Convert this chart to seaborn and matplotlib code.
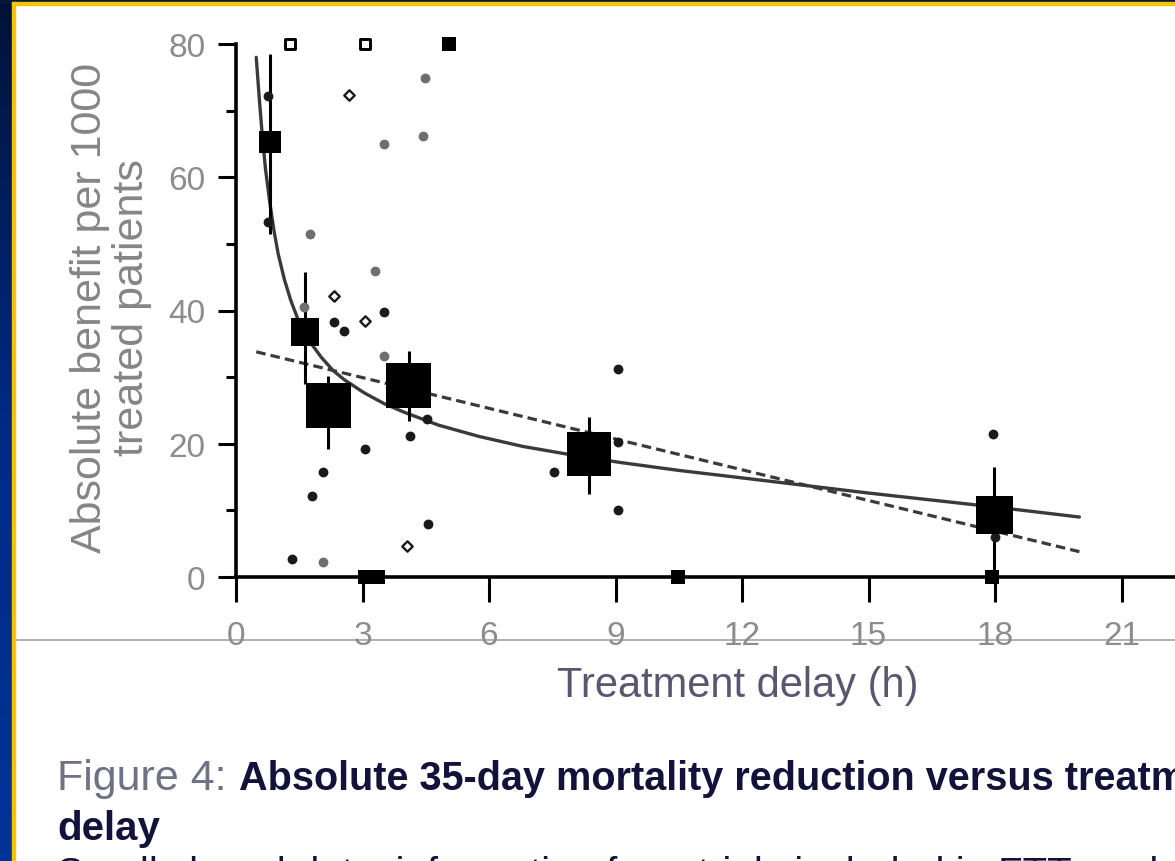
import matplotlib
matplotlib.use('Agg')
import matplotlib.pyplot as plt
import numpy as np
import seaborn as sns
from matplotlib.patches import Rectangle
from matplotlib.lines import Line2D
from matplotlib.colors import LinearSegmentedColormap

# trial data (x = treatment delay h, y = benefit per 1000)
dark_x = [0.75, 0.75, 2.33, 2.57, 3.5, 4.52, 4.12, 3.05, 2.07, 1.81, 4.55, 1.33, 9.05, 7.55, 9.05, 9.05, 17.95, 18.0]
dark_y = [72.2, 53.3, 38.3, 36.9, 39.8, 23.7, 21.2, 19.2, 15.8, 12.2, 8.0, 2.7, 31.2, 15.8, 20.3, 10.0, 21.5, 6.0]
grey_x = [4.48, 4.43, 3.52, 1.76, 3.3, 1.62, 3.5, 2.07]
grey_y = [74.9, 66.2, 65.0, 51.5, 46.0, 40.5, 33.2, 2.2]
open_x = [2.69, 2.33, 3.05, 4.05]
open_y = [72.3, 42.2, 38.4, 4.7]

# data beyond the scale, drawn as small squares on the frame
out_open_x = [1.27, 3.05]
out_open_y = [80, 80]
out_fill_x = [5.05, 3.05, 3.36, 10.48, 17.93]
out_fill_y = [80, 0, 0, 0, 0]

# six time-to-treatment groups
grp_x = [0.8, 1.64, 2.19, 4.1, 8.38, 17.98]
grp_y = [65.3, 36.8, 25.8, 28.8, 18.5, 9.3]
grp_lo = [51.5, 29.0, 19.2, 23.4, 12.5, 0.0]
grp_hi = [78.5, 45.8, 30.2, 33.9, 24.0, 16.5]
grp_weight = [0.24, 0.39, 1.0, 1.0, 0.96, 0.68]

# regression lines
curve_x = [0.48, 0.55, 0.62, 0.7, 0.8, 0.9, 1.0, 1.15, 1.3, 1.45, 1.6, 1.8, 2.02, 2.3, 2.57, 3.05, 3.52, 4.0, 4.8, 5.76, 6.8, 7.8, 9.1, 10.5, 12.1, 15.0, 18.0, 20.0]
curve_y = [78.0, 72.0, 66.5, 61.2, 56.3, 52.0, 48.5, 44.6, 41.5, 39.0, 37.0, 34.9, 33.0, 31.0, 29.6, 27.6, 26.0, 24.7, 22.8, 21.1, 19.6, 18.5, 17.2, 16.0, 14.8, 12.6, 10.5, 9.0]
lin_x = [0.48, 20.0]
lin_y = [33.8, 3.8]

W, H = 1175, 862

sns.set_style('ticks')
plt.rcParams['font.family'] = ['Liberation Sans', 'DejaVu Sans']

fig = plt.figure(figsize=(W / 100, H / 100), dpi=100)
fig.patch.set_facecolor('white')

# slide frame: blue strip on the left, yellow rule, dark top edge
bg = fig.add_axes([0, 0, 12 / W, 1])
grad = np.linspace(0, 1, 256).reshape(-1, 1)
cmap = LinearSegmentedColormap.from_list('slide', ['#001238', '#002a86', '#003399'])
bg.imshow(grad, aspect='auto', cmap=cmap, extent=[0, 1, 0, 1], origin='upper')
bg.axis('off')
fig.add_artist(Rectangle((0, 1 - 3 / H), 1, 3 / H, transform=fig.transFigure, color='#081838', zorder=5))
fig.add_artist(Rectangle((12 / W, 1 - 6 / H), 1, 3 / H, transform=fig.transFigure, color='#f2c500', zorder=5))
fig.add_artist(Rectangle((12 / W, 0), 3 / W, 1 - 3 / H, transform=fig.transFigure, color='#f2c500', zorder=5))
fig.add_artist(Line2D([15 / W, 1], [1 - 641 / H] * 2, transform=fig.transFigure, color='#9a9a9a', lw=1.1, zorder=0))

ax = fig.add_axes([236 / W, 1 - 578 / H, (W - 236) / W, (578 - 45) / H])
ax.set_facecolor('none')

sns.lineplot(x=curve_x, y=curve_y, ax=ax, color='#3a3a3a', lw=2.4, sort=False, estimator=None)
sns.lineplot(x=lin_x, y=lin_y, ax=ax, color='#3a3a3a', lw=2.3, linestyle=(0, (3, 1.6)), sort=False, estimator=None)

ax.vlines(grp_x, grp_lo, grp_hi, color='black', lw=2.2, zorder=3)

sns.scatterplot(x=grey_x, y=grey_y, ax=ax, color='#6e6e6e', s=50, linewidth=0, zorder=4)
sns.scatterplot(x=dark_x, y=dark_y, ax=ax, color='#1a1a1a', s=50, linewidth=0, zorder=4)
sns.scatterplot(x=open_x, y=open_y, ax=ax, color='white', edgecolor='#1a1a1a', marker='D', s=28, linewidth=1.7, zorder=4)
sns.scatterplot(x=out_open_x, y=out_open_y, ax=ax, color='white', edgecolor='black', marker='s', s=60, linewidth=2.1, zorder=5, clip_on=False)
sns.scatterplot(x=out_fill_x, y=out_fill_y, ax=ax, color='black', marker='s', s=105, linewidth=0, zorder=5, clip_on=False)
sns.scatterplot(x=grp_x, y=grp_y, ax=ax, color='black', marker='s', s=np.array(grp_weight) * 1050, linewidth=0, zorder=5)

ax.set_xlim(0, (W - 236) / 42.17)
ax.set_ylim(0, 80)
ax.set_xticks(range(0, 22, 3))
ax.set_yticks([0, 20, 40, 60, 80])
ax.set_yticks([10, 30, 50, 70], minor=True)
sns.despine(ax=ax)
for side in ['left', 'bottom']:
    ax.spines[side].set_linewidth(2.6)
    ax.spines[side].set_color('black')
ax.tick_params(axis='x', length=18, width=2.2, pad=13, labelsize=24, labelcolor='#8c8c8c', color='black')
ax.tick_params(axis='y', which='major', length=13, width=2.2, pad=9, labelsize=24, labelcolor='#8c8c8c', color='black')
ax.tick_params(axis='y', which='minor', length=7, width=2.2, color='black')

ax.set_xlabel('Treatment delay (h)', fontsize=30, color='#5b5670', ha='center', va='baseline')
ax.xaxis.set_label_coords((738 - 236) / (W - 236), (578 - 697) / (578 - 45))
ax.set_ylabel('Absolute benefit per 1000\ntreated patients', fontsize=31, color='#858585',
              ha='center', va='center', linespacing=1.05)
ax.yaxis.set_label_coords((111 - 236) / (W - 236), (578 - 308) / (578 - 45))

# caption below the chart (cut off by the slide edge, as in the source)
fig.text(57 / W, 1 - 790 / H, 'Figure 4: ', fontsize=31, color='#6e7282', va='baseline')
fig.text(239 / W, 1 - 790 / H, 'Absolute 35-day mortality reduction versus treatment',
         fontsize=28.5, weight='bold', color='#12123a', va='baseline')
fig.text(57 / W, 1 - 840 / H, 'delay', fontsize=29, weight='bold', color='#12123a', va='baseline')
fig.text(57 / W, 1 - 886 / H, 'Small closed dots: information from trials included in FTT analysis; open dots',
         fontsize=29, color='#12123a', va='baseline')

fig.savefig('out.png', dpi=100)
